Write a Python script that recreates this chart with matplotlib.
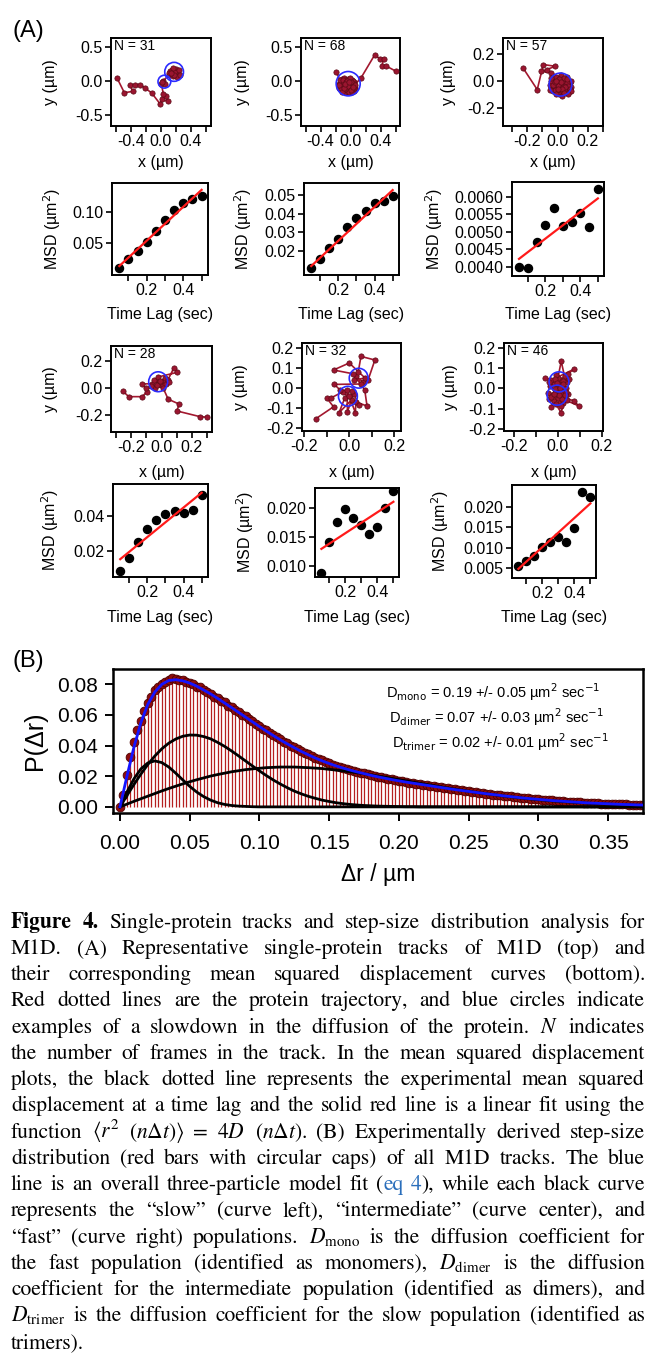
import matplotlib
matplotlib.use("Agg")
import numpy as np
import matplotlib.pyplot as plt
from matplotlib.patches import Ellipse
from matplotlib.ticker import FixedLocator, FormatStrFormatter

W, H = 648, 1358

# ---------------- (A) single-protein tracks (um) ----------------
tr1_x = [-0.587, -0.489, -0.378, -0.413, -0.342, -0.280, -0.218, -0.124, -0.013, 0.013,
         0.089, 0.067, 0.031, 0.004, 0.031, 0.058, 0.013, 0.111, 0.147, 0.200,
         0.164, 0.222, 0.120, 0.191, 0.244, 0.156, 0.209, 0.102, 0.178, 0.253, 0.138]
tr1_y = [0.050, -0.168, -0.149, -0.050, -0.050, -0.050, -0.094, -0.173, -0.332, -0.267,
         -0.297, -0.223, -0.183, -0.035, 0.010, -0.040, -0.010, 0.099, 0.173, 0.188,
         0.079, 0.114, 0.149, 0.139, 0.163, 0.198, 0.064, 0.129, 0.099, 0.089, 0.129]

tr2_x = [-0.187,
         -0.13, -0.08, -0.01, -0.11, 0.02, -0.05, -0.14, 0.01, -0.09, 0.04,
         -0.06, -0.02, -0.12, 0.03, -0.07, 0.00, -0.15, -0.03, -0.10, 0.05,
         -0.04, -0.08, 0.02, -0.13, -0.01, -0.09, 0.06, -0.06, -0.11, 0.01,
         -0.16, -0.03, -0.05, 0.04, -0.12, 0.00, -0.08, 0.03, -0.14, -0.02,
         -0.07, 0.05, -0.10, -0.04, 0.02, -0.13, -0.01, -0.06, 0.04, -0.11,
         -0.03, -0.09, 0.01, -0.15, 0.00, -0.05, 0.06, -0.08, -0.02, 0.03,
         0.142, 0.320, 0.391, 0.444, 0.418, 0.471, 0.600]
tr2_y = [0.139,
         -0.015, -0.095, -0.025, -0.125, -0.075, 0.025, -0.065, -0.135, 0.005, -0.015,
         -0.155, -0.085, 0.035, -0.115, -0.035, 0.015, -0.095, -0.125, -0.055, -0.065,
         -0.005, -0.165, 0.025, -0.135, -0.105, 0.045, -0.095, -0.075, -0.025, -0.035,
         -0.035, 0.035, -0.135, -0.145, -0.085, -0.055, 0.015, 0.005, 0.015, -0.165,
         -0.115, -0.035, 0.025, -0.045, -0.155, -0.115, 0.045, -0.015, -0.105, -0.155,
         -0.065, -0.095, -0.005, -0.055, -0.125, 0.005, -0.055, -0.045, -0.015, -0.085,
         0.054, 0.386, 0.337, 0.337, 0.228, 0.228, 0.153]

tr3_x = [-0.228, -0.134, -0.094, -0.014, -0.072, -0.107, -0.040,
         0.02, -0.03, 0.06, 0.00, 0.08, -0.04, 0.04, -0.01, 0.07, 0.03,
         -0.02, 0.09, 0.01, 0.05, -0.05, 0.06, 0.00, 0.02, 0.08, -0.03,
         0.04, -0.01, 0.07, -0.04, 0.03, 0.01, 0.09, -0.02, 0.05, 0.00,
         0.06, -0.05, 0.02, 0.07, -0.01, 0.04, -0.03, 0.08, 0.01, 0.05,
         -0.04, 0.03, 0.06, 0.00, 0.09, -0.02, 0.02, 0.07, -0.01, 0.04]
tr3_y = [0.099, -0.061, 0.124, 0.111, 0.087, 0.074, 0.062,
         0.025, -0.005, -0.055, -0.085, -0.015, -0.045, 0.015, -0.035, -0.085, -0.025,
         0.025, -0.045, -0.095, -0.005, -0.025, 0.035, 0.005, -0.065, -0.075, -0.075,
         -0.035, 0.035, 0.005, 0.005, -0.105, -0.015, 0.005, -0.065, -0.075, -0.025,
         -0.015, -0.065, 0.045, -0.035, -0.095, 0.025, -0.025, -0.055, 0.015, -0.045,
         0.025, -0.055, 0.015, -0.055, -0.075, -0.005, -0.005, -0.095, 0.005, -0.085]

tr4_x = [-0.256, -0.216, -0.127, -0.096, -0.104, -0.127,
         -0.060, -0.030, 0.000, -0.040, 0.020, -0.010, -0.050, 0.030,
         0.082, 0.104,
         -0.020, 0.010, -0.070, 0.040, -0.030, 0.050, -0.010,
         0.044, 0.118, 0.100, 0.251, 0.300]
tr4_y = [-0.025, -0.067, -0.067, -0.030, -0.005, 0.027,
         0.030, 0.060, 0.020, 0.000, 0.070, 0.040, 0.060, 0.030,
         0.148, 0.114,
         0.080, 0.000, 0.010, 0.060, 0.020, 0.040, 0.050,
         -0.086, -0.123, -0.173, -0.215, -0.220]

tr5_x = [-0.149, -0.070, -0.100, -0.080, -0.030, 0.010, -0.045, -0.020, 0.020, -0.008,
         -0.010, 0.027, 0.030, 0.079, 0.069, 0.030, 0.060, 0.084, 0.114, 0.052,
         0.040, 0.020, 0.070, 0.000, -0.070, 0.017, 0.050, -0.066, -0.040, 0.012,
         0.045, 0.000]
tr5_y = [-0.154, -0.094, -0.050, -0.049, -0.020, -0.060, -0.123, -0.050, -0.030, -0.118,
         -0.010, -0.123, -0.070, -0.090, -0.011, 0.060, 0.030, 0.041, 0.140, 0.158,
         0.080, 0.040, 0.050, 0.125, 0.090, 0.071, 0.020, 0.018, -0.011, -0.015,
         -0.085, -0.040]

tr6_x = [-0.060, 0.010, -0.020, 0.030, 0.015, 0.000, 0.040, -0.030, 0.071, 0.045,
         0.020, -0.010, 0.025, -0.035, 0.005, 0.050, -0.015, 0.035,
         0.000, -0.025, 0.030, -0.040, 0.010, 0.045, -0.020, -0.032, 0.000, 0.025,
         0.015, -0.010, 0.040, -0.045, 0.071, 0.096, 0.020, -0.030, 0.005, -0.015,
         0.035, -0.005, 0.025, -0.040, 0.015, -0.020, 0.010, 0.030]
tr6_y = [0.049, 0.040, 0.020, 0.060, 0.133, 0.050, 0.030, 0.040, 0.093, 0.070,
         0.010, 0.065, 0.035, 0.010, 0.015, 0.045, 0.045, 0.000,
         -0.010, -0.030, -0.040, -0.050, -0.020, -0.025, -0.060, -0.090, -0.045, -0.070,
         -0.119, -0.075, -0.055, -0.020, -0.060, -0.086, -0.050, -0.040, -0.030, -0.005,
         -0.015, 0.025, 0.020, 0.030, -0.085, -0.025, 0.000, -0.030]

frames = [31, 68, 57, 28, 32, 46]

# blue "slowdown" circles: centre x, centre y, width, height (um)
circles = [
    [(0.045, -0.005, 0.17, 0.19), (0.175, 0.140, 0.25, 0.28)],
    [(-0.031, -0.035, 0.32, 0.36)],
    [(0.019, -0.024, 0.15, 0.17)],
    [(-0.022, 0.044, 0.125, 0.148)],
    [(0.042, 0.049, 0.084, 0.099), (-0.006, -0.041, 0.084, 0.099)],
    [(0.005, 0.032, 0.09, 0.098), (-0.004, -0.033, 0.09, 0.098)],
]

# ---------------- (A) mean squared displacement ----------------
time_lag = [0.05, 0.10, 0.15, 0.20, 0.25, 0.30, 0.35, 0.40, 0.45, 0.50]
msd = [
    [0.0105, 0.0247, 0.0383, 0.0525, 0.0699, 0.0868, 0.1026, 0.1141, 0.1195, 0.1252],
    [0.0106, 0.0154, 0.0213, 0.0262, 0.0329, 0.0374, 0.0415, 0.0455, 0.0469, 0.0495],
    [0.00400, 0.00397, 0.00471, 0.00519, 0.00567, 0.00516, 0.00527, 0.00553, 0.00514, 0.00621],
    [0.0087, 0.0158, 0.0253, 0.0324, 0.0377, 0.0410, 0.0429, 0.0419, 0.0434, 0.0520],
    [0.00868, 0.01408, 0.01756, 0.01983, 0.01826, 0.01709, 0.01552, 0.01669, 0.02000, 0.02290],
    [0.00563, 0.00685, 0.00800, 0.01026, 0.01148, 0.01270, 0.01148, 0.01489, 0.02365, 0.02243],
]
fit_x = [0.05, 0.50]
fit_y = [
    [0.0141, 0.1342],
    [0.0118, 0.0527],
    [0.00422, 0.00595],
    [0.0153, 0.0533],
    [0.0129, 0.0211],
    [0.00483, 0.0208],
]

# ---------------- (B) step-size distribution ----------------
hist_p = [
    0.0000, 0.0075, 0.0205, 0.0325, 0.0425, 0.0500, 0.0560, 0.0625, 0.0680, 0.0720,
    0.0760, 0.0785, 0.0805, 0.0815, 0.0830, 0.0840, 0.0835, 0.0830, 0.0825, 0.0815,
    0.0810, 0.0800, 0.0785, 0.0780, 0.0760, 0.0750, 0.0735, 0.0720, 0.0712, 0.0690,
    0.0682, 0.0660, 0.0652, 0.0630, 0.0622, 0.0598, 0.0590, 0.0572, 0.0560, 0.0540,
    0.0530, 0.0510, 0.0500, 0.0483, 0.0470, 0.0455, 0.0442, 0.0425, 0.0415, 0.0400,
    0.0390, 0.0375, 0.0366, 0.0352, 0.0343, 0.0330, 0.0322, 0.0310, 0.0303, 0.0292,
    0.0286, 0.0276, 0.0270, 0.0261, 0.0256, 0.0247, 0.0243, 0.0235, 0.0230, 0.0223,
    0.0219, 0.0212, 0.0208, 0.0202, 0.0198, 0.0192, 0.0189, 0.0183, 0.0180, 0.0174,
    0.0171, 0.0166, 0.0163, 0.0158, 0.0156, 0.0151, 0.0149, 0.0144, 0.0142, 0.0137,
    0.0135, 0.0130, 0.0128, 0.0123, 0.0121, 0.0116, 0.0114, 0.0110, 0.0108, 0.0104,
    0.0102, 0.0098, 0.0096, 0.0092, 0.0090, 0.0086, 0.0084, 0.0080, 0.0079, 0.0075,
    0.0073, 0.0070, 0.0068, 0.0065, 0.0063, 0.0060, 0.0058, 0.0056, 0.0054, 0.0051,
    0.0050, 0.0047, 0.0046, 0.0043, 0.0042, 0.0040, 0.0039, 0.0036, 0.0035, 0.0033,
    0.0032, 0.0030, 0.0029, 0.0027, 0.0026, 0.0025, 0.0024, 0.0023, 0.0022, 0.0021,
    0.0020, 0.0019, 0.0018, 0.0017, 0.0016, 0.0016, 0.0015, 0.0014, 0.0013, 0.0013,
    0.0012,
]
fit_total = [
    0.0000, 0.0200, 0.0390, 0.0550, 0.0670, 0.0750, 0.0800, 0.0825, 0.0830, 0.0823,
    0.0808, 0.0788, 0.0763, 0.0737, 0.0708, 0.0678, 0.0648, 0.0617, 0.0586, 0.0555,
    0.0524, 0.0494, 0.0465, 0.0437, 0.0411, 0.0386, 0.0362, 0.0340, 0.0319, 0.0300,
    0.0283, 0.0267, 0.0253, 0.0240, 0.0228, 0.0217, 0.0206, 0.0196, 0.0187, 0.0178,
    0.0170, 0.0162, 0.0155, 0.0148, 0.0141, 0.0134, 0.0127, 0.0120, 0.0113, 0.0107,
    0.0101, 0.0095, 0.0089, 0.0083, 0.0078, 0.0072, 0.0067, 0.0062, 0.0057, 0.0053,
    0.0049, 0.0045, 0.0041, 0.0038, 0.0035, 0.0032, 0.0029, 0.0026, 0.0024, 0.0022,
    0.0020, 0.0018, 0.0016, 0.0015, 0.0013, 0.0012,
]
fit_slow = [
    0.0000, 0.0097, 0.0183, 0.0248, 0.0287, 0.0300, 0.0289, 0.0260, 0.0220, 0.0176,
    0.0134, 0.0097, 0.0067, 0.0044, 0.0027, 0.0016, 0.0009, 0.0005, 0.0003, 0.0001,
] + [0.0] * 56
fit_mid = [
    0.0000, 0.0074, 0.0146, 0.0214, 0.0277, 0.0332, 0.0379, 0.0416, 0.0443, 0.0461,
    0.0469, 0.0468, 0.0459, 0.0444, 0.0421, 0.0395, 0.0365, 0.0333, 0.0300, 0.0267,
    0.0235, 0.0204, 0.0175, 0.0149, 0.0125, 0.0103, 0.0085, 0.0069, 0.0056, 0.0044,
    0.0035, 0.0027, 0.0021, 0.0016, 0.0012, 0.0009, 0.0007, 0.0005, 0.0004, 0.0003,
    0.0002, 0.0001, 0.0001,
] + [0.0] * 33
fit_fast = [
    0.0000, 0.0018, 0.0036, 0.0053, 0.0070, 0.0087, 0.0104, 0.0120, 0.0135, 0.0150,
    0.0164, 0.0177, 0.0189, 0.0201, 0.0211, 0.0220, 0.0229, 0.0236, 0.0243, 0.0248,
    0.0252, 0.0256, 0.0258, 0.0260, 0.0260, 0.0260, 0.0258, 0.0256, 0.0253, 0.0250,
    0.0245, 0.0240, 0.0235, 0.0229, 0.0223, 0.0216, 0.0209, 0.0201, 0.0194, 0.0186,
    0.0178, 0.0170, 0.0162, 0.0154, 0.0146, 0.0139, 0.0131, 0.0123, 0.0116, 0.0109,
    0.0102, 0.0095, 0.0089, 0.0083, 0.0077, 0.0071, 0.0066, 0.0061, 0.0056, 0.0051,
    0.0047, 0.0043, 0.0039, 0.0036, 0.0033, 0.0030, 0.0027, 0.0024, 0.0022, 0.0020,
    0.0018, 0.0016, 0.0014, 0.0013, 0.0011, 0.0010,
]
d_labels = [
    r"D$_{\mathrm{mono}}$ = 0.19 +/- 0.05 µm$^{2}$ sec$^{-1}$",
    r"D$_{\mathrm{dimer}}$ = 0.07 +/- 0.03 µm$^{2}$ sec$^{-1}$",
    r"D$_{\mathrm{trimer}}$ = 0.02 +/- 0.01 µm$^{2}$ sec$^{-1}$",
]

caption_lines = [
    "¤Figure¤ ¤4.¤ Single-protein tracks and step-size distribution analysis for",
    "M1D. (A) Representative single-protein tracks of M1D (top) and",
    "their corresponding mean squared displacement curves (bottom).",
    "Red dotted lines are the protein trajectory, and blue circles indicate",
    "examples of a slowdown in the diffusion of the protein. $N$ indicates",
    "the number of frames in the track. In the mean squared displacement",
    "plots, the black dotted line represents the experimental mean squared",
    "displacement at a time lag and the solid red line is a linear fit using the",
    r"function $\langle{}r^{2}$ $(n\Delta{}t)\rangle$ = 4$D$ $(n\Delta{}t)$. (B) Experimentally derived step-size",
    "distribution (red bars with circular caps) of all M1D tracks. The blue",
    "line is an overall three-particle model fit («eq» «4»), while each black curve",
    "represents the “slow” (curve left), “intermediate” (curve center), and",
    r"“fast” (curve right) populations. $D_{\mathrm{mono}}$ is the diffusion coefficient for",
    r"the fast population (identified as monomers), $D_{\mathrm{dimer}}$ is the diffusion",
    "coefficient for the intermediate population (identified as dimers), and",
    r"$D_{\mathrm{trimer}}$ is the diffusion coefficient for the slow population (identified as",
    "trimers).",
]

plt.rcParams['font.family'] = ['Liberation Sans', 'DejaVu Sans']
plt.rcParams['axes.unicode_minus'] = False

fig = plt.figure(figsize=(W / 100, H / 100), dpi=100)


def add_box(x0, y0, x1, y1):
    return fig.add_axes([x0 / W, 1 - y1 / H, (x1 - x0) / W, (y1 - y0) / H])


def style(ax, fs=11.5, lw=1.4):
    for s in ax.spines.values():
        s.set_linewidth(lw)
    ax.tick_params(which='both', direction='out', length=4, width=1.2,
                   labelsize=fs, pad=2)


def place_labels(ax, box, xlab_y, ylab_x):
    x0, y0, x1, y1 = box
    ax.xaxis.set_label_coords(0.5, (y1 - xlab_y) / (y1 - y0))
    ax.xaxis.label.set_va('center')
    ax.yaxis.set_label_coords((ylab_x - x0) / (x1 - x0), 0.5)
    ax.yaxis.label.set_va('center')


track_xy = [(tr1_x, tr1_y), (tr2_x, tr2_y), (tr3_x, tr3_y),
            (tr4_x, tr4_y), (tr5_x, tr5_y), (tr6_x, tr6_y)]
track_cfg = [
    dict(box=(111, 38, 211, 126), xlim=(-0.667, 0.667), ylim=(-0.66, 0.64),
         xmaj=[-0.4, 0, 0.4], xmin=[-0.6, -0.2, 0.2, 0.6], ymaj=[-0.5, 0, 0.5], xl=163, yl=50),
    dict(box=(301, 38, 400, 126), xlim=(-0.66, 0.66), ylim=(-0.66, 0.64),
         xmaj=[-0.4, 0, 0.4], xmin=[-0.6, -0.2, 0.2, 0.6], ymaj=[-0.5, 0, 0.5], xl=163, yl=243),
    dict(box=(503, 38, 603, 126), xlim=(-0.36, 0.30), ylim=(-0.33, 0.32),
         xmaj=[-0.2, 0, 0.2], xmin=[-0.3, -0.1, 0.1, 0.3], ymaj=[-0.2, 0, 0.2], xl=163, yl=449),
    dict(box=(111, 346, 212, 432), xlim=(-0.333, 0.333), ylim=(-0.33, 0.31),
         xmaj=[-0.2, 0, 0.2], xmin=[-0.3, -0.1, 0.1, 0.3], ymaj=[-0.2, 0, 0.2], xl=473, yl=50),
    dict(box=(302, 343, 401, 431), xlim=(-0.21, 0.23), ylim=(-0.215, 0.225),
         xmaj=[-0.2, 0, 0.2], xmin=[-0.1, 0.1], ymaj=[-0.2, -0.1, 0, 0.1, 0.2], xl=473, yl=241),
    dict(box=(504, 343, 603, 431), xlim=(-0.245, 0.205), ylim=(-0.208, 0.222),
         xmaj=[-0.2, 0, 0.2], xmin=[-0.1, 0.1], ymaj=[-0.2, -0.1, 0, 0.1, 0.2], xl=473, yl=451),
]

for (tx, ty), n, circ, cfg in zip(track_xy, frames, circles, track_cfg):
    ax = add_box(*cfg['box'])
    ax.plot(tx, ty, '-', color='#a3182f', lw=1.2, zorder=2)
    ax.plot(tx, ty, 'o', ms=3.8, mfc='#9b1530', mec='#5a0a16', mew=0.5, zorder=3)
    for cx, cy, w, h in circ:
        ax.add_patch(Ellipse((cx, cy), w, h, fill=False, ec='#2b2bff', lw=1.2, zorder=4))
    ax.text(0.03, 0.985, f"N = {n}", transform=ax.transAxes, ha='left', va='top', fontsize=10)
    ax.set_xlim(*cfg['xlim'])
    ax.set_ylim(*cfg['ylim'])
    ax.xaxis.set_major_locator(FixedLocator(cfg['xmaj']))
    ax.xaxis.set_minor_locator(FixedLocator(cfg['xmin']))
    ax.yaxis.set_major_locator(FixedLocator(cfg['ymaj']))
    ax.xaxis.set_major_formatter(FormatStrFormatter('%.1f'))
    ax.yaxis.set_major_formatter(FormatStrFormatter('%.1f'))
    style(ax)
    ax.set_xlabel('x (µm)', fontsize=11.5)
    ax.set_ylabel('y (µm)', fontsize=11.5)
    place_labels(ax, cfg['box'], cfg['xl'], cfg['yl'])

msd_cfg = [
    dict(box=(112, 183, 208, 275), ylim=(0.0, 0.145), yt=[0.05, 0.10], fmt='%.2f', xl=315, yl=52),
    dict(box=(304, 183, 399, 275), ylim=(0.007, 0.0565), yt=[0.02, 0.03, 0.04, 0.05], fmt='%.2f', xl=315, yl=243),
    dict(box=(512, 182, 604, 276), ylim=(0.00373, 0.00642),
         yt=[0.0040, 0.0045, 0.0050, 0.0055, 0.0060], fmt='%.4f', xl=315, yl=434),
    dict(box=(113, 484, 208, 577), ylim=(0.0051, 0.0583), yt=[0.02, 0.04], fmt='%.2f', xl=617, yl=50),
    dict(box=(315, 488, 399, 577), ylim=(0.008, 0.0235), yt=[0.010, 0.015, 0.020], fmt='%.3f', xl=617, yl=245),
    dict(box=(512, 485, 596, 578), ylim=(0.0026, 0.0253),
         yt=[0.005, 0.010, 0.015, 0.020], fmt='%.3f', xl=617, yl=440),
]

for vals, fy, cfg in zip(msd, fit_y, msd_cfg):
    ax = add_box(*cfg['box'])
    ax.plot(time_lag, vals, 'o', color='black', ms=5.8, zorder=3)
    ax.plot(fit_x, fy, '-', color='#ff1a1a', lw=1.6, zorder=4)
    ax.set_xlim(0.01, 0.535)
    ax.set_ylim(*cfg['ylim'])
    ax.xaxis.set_major_locator(FixedLocator([0.2, 0.4]))
    ax.xaxis.set_minor_locator(FixedLocator([0.1, 0.3, 0.5]))
    ax.yaxis.set_major_locator(FixedLocator(cfg['yt']))
    ax.xaxis.set_major_formatter(FormatStrFormatter('%.1f'))
    ax.yaxis.set_major_formatter(FormatStrFormatter(cfg['fmt']))
    style(ax)
    ax.set_xlabel('Time Lag (sec)', fontsize=11.5)
    ax.set_ylabel('MSD (µm$^2$)', fontsize=11.5)
    place_labels(ax, cfg['box'], cfg['xl'], cfg['yl'])

# ---------------- panel B ----------------
b_box = (113, 669, 643, 813)
axb = add_box(*b_box)
bins = np.linspace(0, 0.375, len(hist_p))
grid = np.linspace(0, 0.375, len(fit_total))
axb.vlines(bins, 0, hist_p, color='#b52020', lw=0.9, zorder=1)
axb.plot(bins, hist_p, 'o', ms=6.3, mfc='#8e0c0c', mec='#4d0000', mew=0.6, zorder=2)
for comp in (fit_slow, fit_mid, fit_fast):
    axb.plot(grid, comp, '-', color='black', lw=2.0, zorder=3)
axb.plot(grid, fit_total, '-', color='#1414ff', lw=2.0, zorder=4)
axb.set_xlim(-0.005, 0.375)
axb.set_ylim(-0.004, 0.09)
axb.xaxis.set_major_locator(FixedLocator([0, 0.05, 0.10, 0.15, 0.20, 0.25, 0.30, 0.35]))
axb.yaxis.set_major_locator(FixedLocator([0, 0.02, 0.04, 0.06, 0.08]))
axb.xaxis.set_major_formatter(FormatStrFormatter('%.2f'))
axb.yaxis.set_major_formatter(FormatStrFormatter('%.2f'))
style(axb, fs=15, lw=1.8)
axb.tick_params(axis='x', length=6, width=1.4, pad=9)
axb.tick_params(axis='y', length=6, width=1.4, pad=5)
axb.set_xlabel('Δr / µm', fontsize=16.5)
axb.set_ylabel('P(Δr)', fontsize=18)
place_labels(axb, b_box, 874, 35)

for i, lab in enumerate(d_labels):
    fig.text((386 + 3 * i) / W, 1 - (692 + 25 * i) / H, lab, fontsize=10.5,
             va='center', ha='left')

fig.text(12 / W, 1 - 31 / H, '(A)', fontsize=17, va='center', ha='left')
fig.text(12 / W, 1 - 661 / H, '(B)', fontsize=17, va='center', ha='left')

# ---------------- caption (justified) ----------------
renderer = fig.canvas.get_renderer()
CAP_FS = 15.5
X0, X1 = 11, 645
space = CAP_FS * 100 / 72 * 0.25


def parse_runs(word):
    runs, cur, blue, bold = [], '', False, False
    for ch in word:
        if ch in '«»¤':
            if cur:
                runs.append((cur, blue, bold))
                cur = ''
            if ch == '«':
                blue = True
            elif ch == '»':
                blue = False
            else:
                bold = not bold
        else:
            cur += ch
    if cur:
        runs.append((cur, blue, bold))
    return runs


for i, line in enumerate(caption_lines):
    yb = 1 - (927.7 + 26.25 * i) / H
    words = []
    for wtxt in line.split(' '):
        runs = []
        for txt, blue, bold in parse_runs(wtxt):
            t = fig.text(0, yb, txt, fontsize=CAP_FS, family='STIXGeneral',
                         math_fontfamily='stix', fontweight='bold' if bold else 'normal',
                         color='#2a6ebb' if blue else 'black', va='baseline', ha='left')
            runs.append((t, t.get_window_extent(renderer).width))
        words.append(runs)
    widths = [sum(r[1] for r in ws) for ws in words]
    if i < len(caption_lines) - 1 and len(words) > 1:
        gap = max((X1 - X0 - sum(widths)) / (len(words) - 1), 2.0)
    else:
        gap = space
    x = X0
    for ws, wd in zip(words, widths):
        for t, w in ws:
            t.set_x(x / W)
            x += w
        x += gap

fig.savefig('out.png', dpi=100)
